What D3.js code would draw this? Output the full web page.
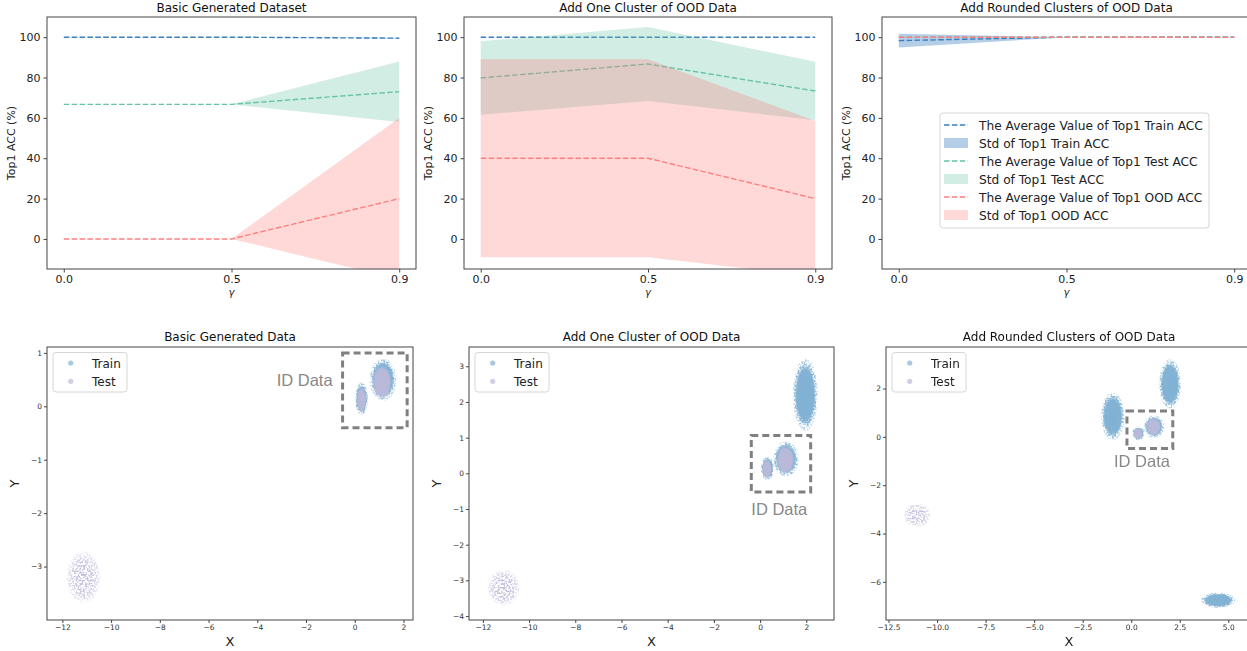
<!DOCTYPE html>
<html><head><meta charset="utf-8">
<script src="https://cdn.jsdelivr.net/npm/d3@7"></script>
<style>
body{margin:0;background:#fff}
svg{display:block}
text{font-family:"DejaVu Sans",sans-serif}
</style></head>
<body><svg id="c" width="1247" height="651"></svg>
<script>
// ---------------- DATA ----------------
const gammaLabels = ["0.0", "0.5", "0.9"];
const accTitles = ["Basic Generated Dataset", "Add One Cluster of OOD Data", "Add Rounded Clusters of OOD Data"];
const accTicks = [0, 20, 40, 60, 80, 100];
const accDomain = [-14.9, 110];
// per panel, per gamma
const trainMean = [[100, 100, 99.5], [100, 100, 100], [98.3, 100, 100]];
const trainStd  = [[0, 0, 0.2],     [0, 0, 0],       [3.4, 0, 0]];
const testMean  = [[66.7, 66.7, 73], [79.8, 86.7, 73.3], [100, 100, 100]];
const testStd   = [[0, 0, 15],       [18.2, 18.3, 14.5], [0, 0, 0]];
const oodMean   = [[0, 0, 20],       [40, 40, 20],       [100, 100, 100]];
const oodStd    = [[0, 0, 40],       [49.1, 49.1, 38.5], [0, 0, 0]];
const legendLabels = [
  "The Average Value of Top1 Train ACC", "Std of Top1 Train ACC",
  "The Average Value of Top1 Test ACC", "Std of Top1 Test ACC",
  "The Average Value of Top1 OOD ACC", "Std of Top1 OOD ACC"];

const scatterTitles = ["Basic Generated Data", "Add One Cluster of OOD Data", "Add Rounded Clusters of OOD Data"];
const scatterXDomains = [[-12.63, 2.39], [-12.6, 3.2], [-12.63, 6.22]];
const scatterYDomains = [[-4.0, 1.11], [-4.11, 3.54], [-7.58, 3.72]];
const scatterXTicks = [[-12, -10, -8, -6, -4, -2, 0, 2], [-12, -10, -8, -6, -4, -2, 0, 2], [-12.5, -10, -7.5, -5, -2.5, 0, 2.5, 5]];
const scatterYTicks = [[-3, -2, -1, 0, 1], [-4, -3, -2, -1, 0, 1, 2, 3], [-6, -4, -2, 0, 2]];
// clusters: [centerX, centerY, halfExtentX, halfExtentY]
const trainClusters = [
  [[0.28, 0.14, 0.27, 0.31], [1.16, 0.5, 0.56, 0.4]],
  [[1.96, 2.2, 0.55, 1.03], [0.32, 0.14, 0.3, 0.33], [1.12, 0.4, 0.56, 0.5]],
  [[-0.95, 0.85, 0.62, 1.0], [2.0, 2.19, 0.58, 1.05], [4.48, -6.76, 0.9, 0.33], [0.37, 0.14, 0.33, 0.3], [1.17, 0.42, 0.54, 0.48]]
];
const testIDClusters = [
  [[0.28, 0.12, 0.2, 0.25], [1.12, 0.45, 0.4, 0.32]],
  [[0.3, 0.12, 0.22, 0.27], [1.1, 0.38, 0.4, 0.4]],
  [[0.35, 0.12, 0.25, 0.24], [1.15, 0.42, 0.4, 0.38]]
];
const testOODClusters = [
  [[-11.13, -3.2, 0.72, 0.5]],
  [[-11.1, -3.2, 0.72, 0.52]],
  [[-11.03, -3.24, 0.72, 0.5]]
];
const idBoxes = [[-0.5, 2.15, -0.4, 1.0], [-0.38, 2.19, -0.52, 1.06], [-0.22, 2.14, -0.48, 1.07]];
const scatterLegend = ["Train", "Test"];

// ---------------- STYLE / LAYOUT ----------------
const svg = d3.select("#c");
const defs = svg.append("defs");
const colTrain = "#3a7ebf", colTest = "#66c2a5", colOOD = "#ff7f7f";
const series = [
  {mean: trainMean, std: trainStd, color: colTrain, alpha: 0.38},
  {mean: testMean, std: testStd, color: colTest, alpha: 0.3},
  {mean: oodMean, std: oodStd, color: colOOD, alpha: 0.3}
];
const topBoxes = [[47, 416], [464, 832], [882, 1251]];
const topT = 17, topB = 269;
const botBoxes = [[47, 413], [469, 834], [886, 1252]];
const botT = 347, botB = 620;
const spine = "#444";

// ---------------- TOP ROW ----------------
topBoxes.forEach(([l, r], p) => {
  const g = svg.append("g");
  const x = d3.scalePoint().domain(gammaLabels).range([l, r]).padding(0.1);
  const y = d3.scaleLinear().domain(accDomain).range([topB, topT]);
  const cid = "clipT" + p;
  defs.append("clipPath").attr("id", cid).append("rect")
    .attr("x", l).attr("y", topT).attr("width", r - l).attr("height", topB - topT);
  const plot = g.append("g").attr("clip-path", `url(#${cid})`);
  series.forEach(s => {
    const m = s.mean[p], sd = s.std[p];
    const line = d3.line().x((d, j) => x(gammaLabels[j])).y(d => y(d));
    plot.append("path").attr("d", line(m)).attr("fill", "none")
      .attr("stroke", s.color).attr("stroke-width", 1.4).attr("stroke-dasharray", "5.5,2.4");
    const area = d3.area().x((d, j) => x(gammaLabels[j]))
      .y0((d, j) => y(d - sd[j])).y1((d, j) => y(d + sd[j]));
    plot.append("path").attr("d", area(m)).attr("fill", s.color).attr("fill-opacity", s.alpha);
  });
  const ax = g.append("g").attr("transform", `translate(0,${topB})`)
    .call(d3.axisBottom(x).tickSize(3.5).tickPadding(2.5));
  const ay = g.append("g").attr("transform", `translate(${l},0)`)
    .call(d3.axisLeft(y).tickValues(accTicks).tickSize(3.5).tickPadding(3));
  [ax, ay].forEach(a => {
    a.select(".domain").remove();
    a.selectAll("line").attr("stroke", spine);
    a.selectAll("text").attr("fill", "#222").style("font-size", "11px");
  });
  g.append("rect").attr("x", l).attr("y", topT).attr("width", r - l).attr("height", topB - topT)
    .attr("fill", "none").attr("stroke", spine).attr("stroke-width", 1);
  g.append("text").attr("x", (l + r) / 2).attr("y", 12).attr("text-anchor", "middle")
    .style("font-size", "12px").attr("fill", "#111").text(accTitles[p]);
  g.append("text").attr("transform", `translate(${l - 32},${(topT + topB) / 2}) rotate(-90)`)
    .attr("text-anchor", "middle").style("font-size", "11px").attr("fill", "#222").text("Top1 ACC (%)");
  g.append("text").attr("x", (l + r) / 2).attr("y", 296).attr("text-anchor", "middle")
    .style("font-size", "10px").style("font-style", "italic").attr("fill", "#222").text("γ");
});

// legend on 3rd top panel
{
  const lg = svg.append("g");
  lg.append("rect").attr("x", 940).attr("y", 113).attr("width", 269).attr("height", 115)
    .attr("rx", 3).attr("fill", "#fff").attr("fill-opacity", 0.8).attr("stroke", "#d6d6d6");
  legendLabels.forEach((t, i) => {
    const s = series[Math.floor(i / 2)];
    const cy = 125 + i * 18;
    if (i % 2 === 0) {
      lg.append("line").attr("x1", 944).attr("x2", 968).attr("y1", cy).attr("y2", cy)
        .attr("stroke", s.color).attr("stroke-width", 1.4).attr("stroke-dasharray", "5.5,2.4");
    } else {
      lg.append("rect").attr("x", 944).attr("y", cy - 5).attr("width", 24).attr("height", 10)
        .attr("fill", s.color).attr("fill-opacity", s.alpha);
    }
    lg.append("text").attr("x", 979).attr("y", cy + 4.5).style("font-size", "12.2px").attr("fill", "#222").text(t);
  });
}

// ---------------- BOTTOM ROW ----------------
const colPtTrain = "#80b1d3", colPtTest = "#bebada";
function grad(id, color, stops) {
  const gr = defs.append("radialGradient").attr("id", id);
  stops.forEach(([o, a]) => gr.append("stop").attr("offset", o).attr("stop-color", color).attr("stop-opacity", a));
}
grad("gTrainCore", colPtTrain, [[0, 1], [0.8, 0.97], [1, 0]]);
grad("gTrainEdge", colPtTrain, [[0, 1], [0.85, 1], [1, 0.2]]);
grad("gTestCore", colPtTest, [[0, 1], [0.75, 0.95], [1, 0]]);
grad("gTestOOD", colPtTest, [[0, 1], [0.5, 0.97], [0.8, 0.6], [1, 0]]);
// speckle texture filter (visual style for point clouds)
{
  const f = defs.append("filter").attr("id", "speckle").attr("x", "-10%").attr("y", "-10%").attr("width", "120%").attr("height", "120%");
  f.append("feTurbulence").attr("type", "fractalNoise").attr("baseFrequency", 0.55).attr("numOctaves", 1).attr("seed", 7).attr("result", "n");
  f.append("feColorMatrix").attr("in", "n").attr("type", "matrix")
    .attr("values", "0 0 0 0 0  0 0 0 0 0  0 0 0 0 0  6 0 0 0 -2.6").attr("result", "m");
  f.append("feComposite").attr("in", "SourceGraphic").attr("in2", "m").attr("operator", "in");
}

botBoxes.forEach(([l, r], p) => {
  const g = svg.append("g");
  const x = d3.scaleLinear().domain(scatterXDomains[p]).range([l, r]);
  const y = d3.scaleLinear().domain(scatterYDomains[p]).range([botB, botT]);
  const cid = "clipB" + p;
  defs.append("clipPath").attr("id", cid).append("rect")
    .attr("x", l).attr("y", botT).attr("width", r - l).attr("height", botB - botT);
  const plot = g.append("g").attr("clip-path", `url(#${cid})`);
  const ell = (arr, fill, k, filt, op) => {
    const e = plot.append("g").attr("opacity", op).selectAll(null).data(arr).enter().append("ellipse")
      .attr("cx", d => x(d[0])).attr("cy", d => y(d[1]))
      .attr("rx", d => k * Math.abs(x(d[0] + d[2]) - x(d[0])))
      .attr("ry", d => k * Math.abs(y(d[1] + d[3]) - y(d[1])))
      .attr("fill", fill);
    if (filt) e.attr("filter", `url(#${filt})`);
  };
  ell(trainClusters[p], "url(#gTrainEdge)", 1.0, "speckle", 0.85);
  ell(trainClusters[p], "url(#gTrainCore)", 0.85, null, 1);
  ell(testIDClusters[p], "url(#gTestCore)", 1.0, null, 0.95);
  ell(testOODClusters[p], "url(#gTestOOD)", 1.0, "speckle", 0.9);

  const b = idBoxes[p];
  plot.append("rect").attr("x", x(b[0])).attr("y", y(b[3]))
    .attr("width", x(b[1]) - x(b[0])).attr("height", y(b[2]) - y(b[3]))
    .attr("fill", "none").attr("stroke", "#808080").attr("stroke-width", 3).attr("stroke-dasharray", "7,4");

  const ax = g.append("g").attr("transform", `translate(0,${botB})`)
    .call(d3.axisBottom(x).tickValues(scatterXTicks[p]).tickSize(3).tickPadding(2)
      .tickFormat(p === 2 ? d3.format(".1f") : d3.format("d")));
  const ay = g.append("g").attr("transform", `translate(${l},0)`)
    .call(d3.axisLeft(y).tickValues(scatterYTicks[p]).tickSize(3).tickPadding(2).tickFormat(d3.format("d")));
  [ax, ay].forEach(a => {
    a.select(".domain").remove();
    a.selectAll("line").attr("stroke", spine);
    a.selectAll("text").attr("fill", "#333").style("font-size", "7.5px");
  });
  g.append("rect").attr("x", l).attr("y", botT).attr("width", r - l).attr("height", botB - botT)
    .attr("fill", "none").attr("stroke", spine).attr("stroke-width", 1);
  g.append("text").attr("x", (l + r) / 2).attr("y", 341).attr("text-anchor", "middle")
    .style("font-size", "12px").attr("fill", "#111").text(scatterTitles[p]);
  g.append("text").attr("x", (l + r) / 2).attr("y", 646).attr("text-anchor", "middle")
    .style("font-size", "13px").attr("fill", "#222").text("X");
  g.append("text").attr("transform", `translate(${l - 28},${(botT + botB) / 2}) rotate(-90)`)
    .attr("text-anchor", "middle").style("font-size", "13px").attr("fill", "#222").text("Y");

  // ID Data label
  const lab = g.append("text").style("font-size", "16.5px").style("font-family", "'Liberation Sans',sans-serif")
    .attr("fill", "#888").text("ID Data");
  if (p === 0) lab.attr("x", x(b[0]) - 10).attr("y", y(0.5) + 6).attr("text-anchor", "end");
  else if (p === 1) lab.attr("x", x(b[0])).attr("y", y(b[2]) + 23).attr("text-anchor", "start");
  else lab.attr("x", x(b[0]) - 13).attr("y", y(b[2]) + 19).attr("text-anchor", "start");

  // legend
  const lg = g.append("g");
  lg.append("rect").attr("x", l + 6).attr("y", botT + 5.5).attr("width", 74).attr("height", 39.5)
    .attr("rx", 3).attr("fill", "#fff").attr("stroke", "#d6d6d6");
  [colPtTrain, colPtTest].forEach((c, i) => {
    const cy = botT + 16 + i * 18.3;
    lg.append("circle").attr("cx", l + 23.7).attr("cy", cy).attr("r", 2.6).attr("fill", c).attr("fill-opacity", 0.7);
    lg.append("text").attr("x", l + 45).attr("y", cy + 4.5).style("font-size", "12px").attr("fill", "#222").text(scatterLegend[i]);
  });
});
</script></body></html>
